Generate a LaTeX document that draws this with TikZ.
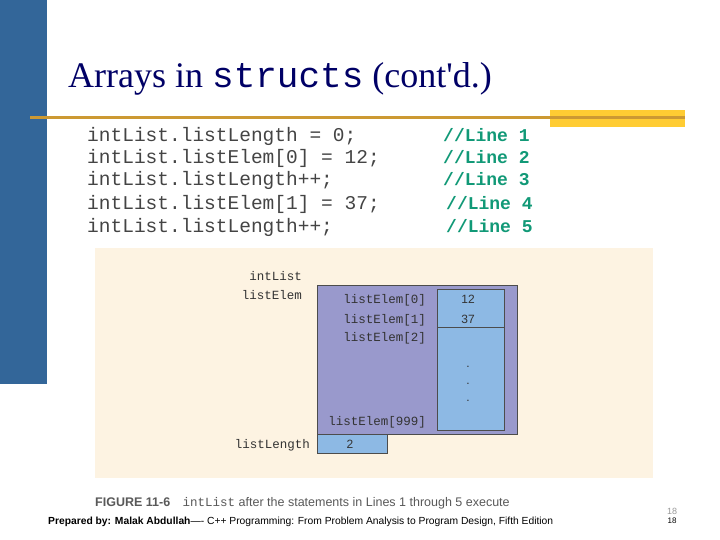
\documentclass[tikz,border=0pt]{standalone}
\usepackage{fontspec}
\setmainfont{Liberation Serif}
\setsansfont{Liberation Sans}
\setmonofont{Liberation Mono}
\definecolor{barblue}{HTML}{336699}
\definecolor{gold}{HTML}{CC9933}
\definecolor{yel}{HTML}{FFCC33}
\definecolor{navy}{HTML}{000066}
\definecolor{codegray}{HTML}{444444}
\definecolor{cgreen}{HTML}{119977}
\definecolor{beige}{HTML}{FDF3E2}
\definecolor{purp}{HTML}{9999CC}
\definecolor{lblue}{HTML}{8DB9E4}
\begin{document}
\begin{tikzpicture}[x=1pt,y=-1pt,
  code/.style={anchor=base west,inner sep=0,font=\fontsize{19.5}{19.5}\ttfamily,text=codegray},
  cmt/.style={anchor=base west,inner sep=0,font=\fontsize{18}{18}\ttfamily\bfseries,text=cgreen},
  lab/.style={anchor=base east,inner sep=0,font=\fontsize{12.5}{12.5}\ttfamily,text=black!80},
  val/.style={anchor=base,inner sep=0,font=\fontsize{12}{12}\sffamily,text=black!80}]
\useasboundingbox (0,0) rectangle (720,540);
\fill[white] (0,0) rectangle (720,540);
\fill[barblue] (0,0) rectangle (47,384);
\fill[yel] (550,110) rectangle (685,127);
\fill[gold] (30,116) rectangle (685,119);
\node[anchor=base west,inner sep=0,text=navy,font=\fontsize{36}{36}\selectfont] (title) at (68,88) {Arrays in \texttt{structs} (cont\textquotesingle d.)};
\node[code] (c1) at (87,142) {intList.listLength = 0;};
\node[code] (c2) at (87,164) {intList.listElem[0] = 12;};
\node[code] (c3) at (87,186) {intList.listLength++;};
\node[code] (c4) at (87,210) {intList.listElem[1] = 37;};
\node[code] (c5) at (87,233) {intList.listLength++;};
\node[cmt] (m1) at (443,142) {//Line 1};
\node[cmt] (m2) at (443,164) {//Line 2};
\node[cmt] (m3) at (443,186) {//Line 3};
\node[cmt] (m4) at (446,210) {//Line 4};
\node[cmt] (m5) at (446,233) {//Line 5};
\fill[beige] (95,248) rectangle (653,478);
\draw[fill=purp,draw=black!70,line width=0.8pt] (317,285) rectangle (517,434);
\draw[fill=lblue,draw=black!70,line width=0.8pt] (437,289) rectangle (504,430);
\draw[black!70,line width=0.8pt] (437,327) -- (504,327);
\draw[fill=lblue,draw=black!70,line width=0.8pt] (317,434) rectangle (387,453);
\node[lab] (il) at (302,280) {intList};
\node[lab] (le) at (302,299) {listElem};
\node[lab] (e0) at (426,303) {listElem[0]};
\node[lab] (e1) at (426,323) {listElem[1]};
\node[lab] (e2) at (426,341) {listElem[2]};
\node[lab] (e9) at (426,425) {listElem[999]};
\node[lab] (ll) at (310,448) {listLength};
\node[val] (v0) at (468,303) {12};
\node[val] (v1) at (468,323) {37};
\node[val] (v2) at (350,448) {2};
\node[val] (d) at (468,367) {.};
\node[val] (d2) at (468,384) {.};
\node[val] (d3) at (468,401) {.};
\node[anchor=base west,inner sep=0,font=\fontsize{12.5}{12.5}\sffamily,text=black!65] (cap) at (95,506) {\textbf{FIGURE 11-6}\quad\texttt{intList} after the statements in Lines 1 through 5 execute};
\node[anchor=base west,inner sep=0,font=\fontsize{10.3}{10.3}\sffamily] (foot) at (48,524) {\textbf{Prepared by: Malak Abdullah}---- C++ Programming: From Problem Analysis to Program Design, Fifth Edition};
\node[anchor=base,inner sep=0,font=\fontsize{9}{9}\sffamily,text=black!40] (pg1) at (672,514) {18};
\node[anchor=base,inner sep=0,font=\fontsize{8}{8}\sffamily] (pg2) at (672,523) {18};
\end{tikzpicture}
\end{document}
